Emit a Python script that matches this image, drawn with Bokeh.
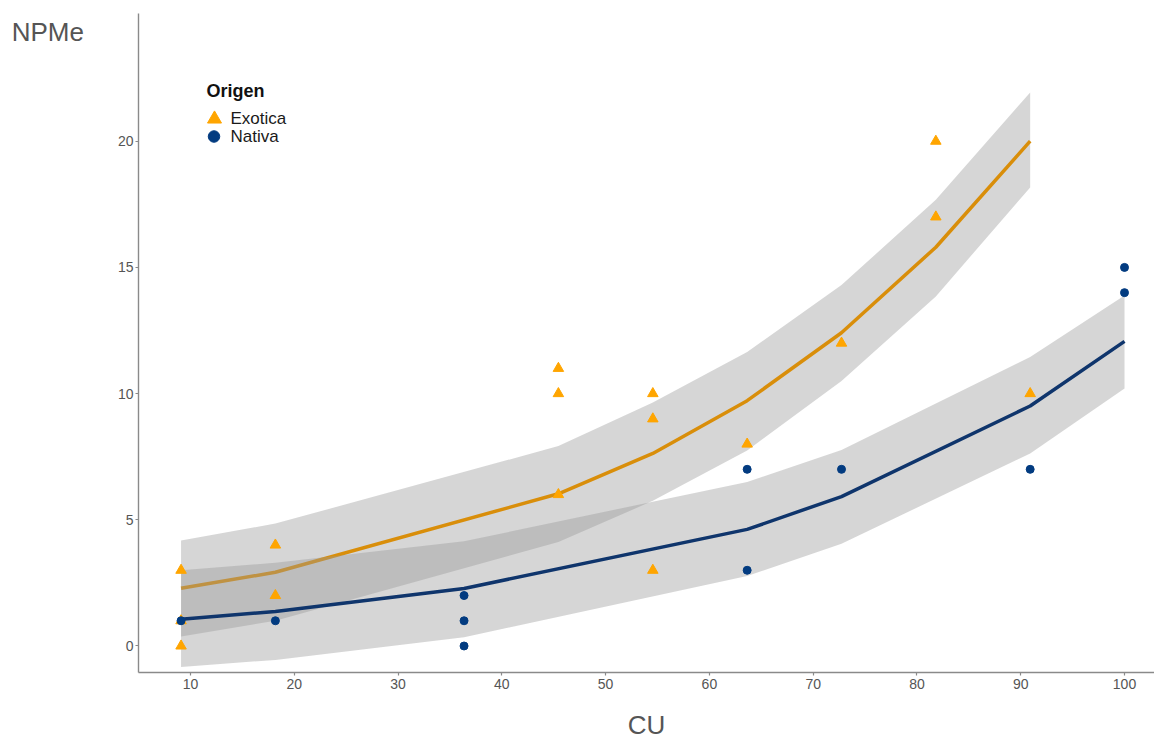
from bokeh.plotting import figure
from bokeh.models import Range1d, Label, FixedTicker
from bokeh.embed import file_html
from bokeh.resources import INLINE

# ---- data ----
cu_exo = [9.09, 9.09, 9.09, 18.18, 18.18, 45.45, 45.45, 45.45, 54.55, 54.55, 54.55,
          63.64, 72.73, 81.82, 81.82, 90.91]
npme_exo = [0, 1, 3, 2, 4, 6, 10, 11, 3, 9, 10, 8, 12, 17, 20, 10]

cu_nat = [9.09, 18.18, 36.36, 36.36, 36.36, 63.64, 63.64, 72.73, 90.91, 100, 100]
npme_nat = [1, 1, 0, 1, 2, 3, 7, 7, 7, 14, 15]

fit_x_exo = [9.09, 18.18, 45.45, 54.55, 63.64, 72.73, 81.82, 90.91]
fit_exo = [2.29, 2.92, 6.03, 7.63, 9.72, 12.41, 15.80, 20.00]
upr_exo = [4.18, 4.85, 7.92, 9.65, 11.65, 14.30, 17.68, 21.93]
lwr_exo = [0.38, 1.00, 4.12, 5.75, 7.75, 10.50, 13.85, 18.17]

fit_x_nat = [9.09, 18.18, 36.36, 63.64, 72.73, 90.91, 100]
fit_nat = [1.06, 1.37, 2.28, 4.62, 5.92, 9.51, 12.07]
upr_nat = [3.00, 3.30, 4.15, 6.50, 7.77, 11.45, 13.89]
lwr_nat = [-0.83, -0.55, 0.35, 2.77, 4.05, 7.63, 10.20]

x_ticks = [10, 20, 30, 40, 50, 60, 70, 80, 90, 100]
y_ticks = [0, 5, 10, 15, 20]
x_title = "CU"
y_title = "NPMe"
legend_title = "Origen"
legend_labels = ["Exotica", "Nativa"]

# ---- styles ----
ORANGE_PT = "#FFA500"
ORANGE_LN = "#D98E0A"
NAVY_PT = "#023B80"
NAVY_LN = "#0F356C"
AXIS_COL = "#8A8A8A"
TXT_COL = "#555555"
FONT = "Liberation Sans"

W, H = 1154, 742
X0, X1 = 4.99, 102.89
Y0, Y1 = -1.05, 25.06
# pixel geometry of the frame (for placing annotations)
FL, FR, FT, FB = 138, 1154, 13, 672
ppx = (FR - FL) / (X1 - X0)
ppy = (FB - FT) / (Y1 - Y0)


def dx(px):
    return X0 + (px - FL) / ppx


def dy(py):
    return Y0 + (FB - py) / ppy


def sx(px):  # screen units are relative to the frame's left edge
    return px - FL


def sy(py):  # ... and to the frame's bottom edge, upward
    return FB - py


p = figure(width=W, height=H, output_backend="svg", toolbar_location=None,
           x_range=Range1d(X0, X1), y_range=Range1d(Y0, Y1),
           min_border_left=FL, min_border_right=W - FR,
           min_border_top=FT, min_border_bottom=H - FB)
p.grid.visible = False
p.outline_line_color = None
p.background_fill_color = "white"
p.border_fill_color = "white"

# ribbons + fitted lines
p.varea(x=fit_x_exo, y1=lwr_exo, y2=upr_exo, fill_color="#999999", fill_alpha=0.4)
p.line(fit_x_exo, fit_exo, line_color=ORANGE_LN, line_width=3.5)
p.varea(x=fit_x_nat, y1=lwr_nat, y2=upr_nat, fill_color="#999999", fill_alpha=0.4)
p.line(fit_x_nat, fit_nat, line_color=NAVY_LN, line_width=3.5)

# points
p.scatter(cu_exo, npme_exo, marker="triangle", size=10.5, fill_color=ORANGE_PT,
          line_color=ORANGE_PT)
p.scatter(cu_nat, npme_nat, marker="circle", size=8, fill_color=NAVY_PT,
          line_color=NAVY_PT)

# axes
for ax in (p.xaxis[0], p.yaxis[0]):
    ax.axis_line_color = AXIS_COL
    ax.axis_line_width = 1.4
    ax.major_tick_line_color = AXIS_COL
    ax.major_tick_line_width = 1.2
    ax.major_tick_out = 3
    ax.major_tick_in = 0
    ax.minor_tick_line_color = None
    ax.major_label_text_font = FONT
    ax.major_label_text_font_size = "14px"
    ax.major_label_text_color = TXT_COL
    ax.major_label_standoff = 3
    ax.axis_label_text_font = FONT
    ax.axis_label_text_font_size = "26px"
    ax.axis_label_text_font_style = "normal"
    ax.axis_label_text_color = TXT_COL

p.xaxis.ticker = FixedTicker(ticks=x_ticks)
p.yaxis.ticker = FixedTicker(ticks=y_ticks)
p.yaxis.major_label_standoff = 2

p.xaxis.axis_label = x_title
p.xaxis.axis_label_standoff = 18

# y title horizontal at the top-left; the leading blank line drops it ~30px
p.yaxis.axis_label = "\n" + y_title
p.yaxis.axis_label_orientation = "horizontal"
p.yaxis.axis_label_align = "end"
p.yaxis.axis_label_standoff = 31

# legend (drawn manually for exact sizing)
p.add_layout(Label(x=sx(206), y=sy(90), x_units="screen", y_units="screen",
                   text=legend_title, text_font=FONT,
                   text_font_size="18px", text_font_style="bold", text_color="#111111",
                   text_align="left", text_baseline="middle"))
p.scatter([dx(214)], [dy(118.5)], marker="triangle", size=14,
          fill_color=ORANGE_PT, line_color=ORANGE_PT)
p.scatter([dx(213.5)], [dy(136)], marker="circle", size=11.5,
          fill_color=NAVY_PT, line_color=NAVY_PT)
for lab, py in zip(legend_labels, [118, 136]):
    p.add_layout(Label(x=sx(230), y=sy(py), x_units="screen", y_units="screen",
                       text=lab, text_font=FONT,
                       text_font_size="17px", text_color="#1A1A1A",
                       text_align="left", text_baseline="middle"))

open("out.html", "w").write(file_html(p, INLINE))
